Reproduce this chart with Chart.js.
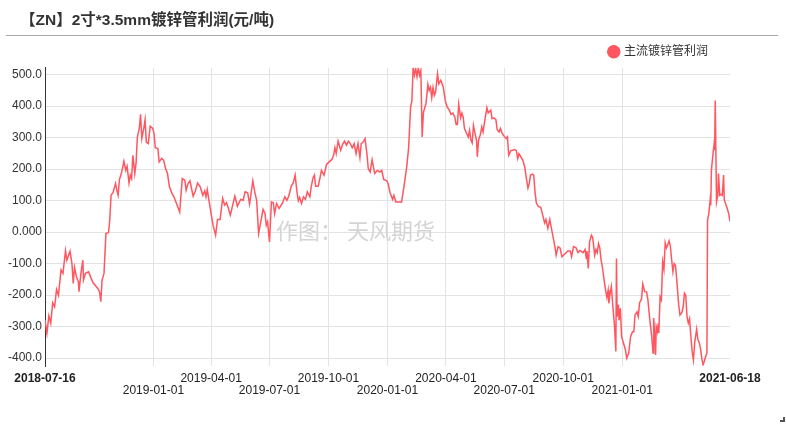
<!DOCTYPE html>
<html>
<head>
<meta charset="utf-8">
<script src="https://cdn.jsdelivr.net/npm/chart.js@4.4.1/dist/chart.umd.min.js"></script>
<style>
  html, body { margin: 0; padding: 0; background: #fff; }
  #wrap { position: relative; width: 786px; height: 425px; overflow: hidden; font-family: "Liberation Sans", Arial, "Noto Sans CJK SC", sans-serif; }
  #title { position: absolute; left: 20px; top: 10px; font-size: 15.5px; font-weight: bold; color: #333; line-height: 20px; white-space: nowrap; font-family: "Liberation Sans", Arial, "Noto Sans CJK SC", sans-serif; }
  #rule { position: absolute; left: 6px; top: 35px; width: 772px; height: 0; border-top: 1px solid #a8a8a8; }
  #corner { position: absolute; left: 780px; top: 417px; width: 3px; height: 3px; border-right: 2px solid #555; border-bottom: 2px solid #555; }
  canvas { position: absolute; left: 0; top: 0; }
</style>
</head>
<body>
<div id="wrap">
  <canvas id="profit-chart" width="786" height="425"></canvas>
  <div id="title">【ZN】2寸*3.5mm镀锌管利润(元/吨)</div>
  <div id="rule"></div>
  <div id="corner"></div>
</div>
<script>
var seriesName = '主流镀锌管利润';
var lineColor = '#ff5660';

var dates = [
  '2018-07-16','2018-07-19','2018-07-22','2018-07-25','2018-07-28','2018-07-31','2018-08-03','2018-08-06','2018-08-10','2018-08-13',
  '2018-08-17','2018-08-19','2018-08-21','2018-08-24','2018-08-27','2018-08-29','2018-08-31','2018-09-03','2018-09-06','2018-09-07',
  '2018-09-10','2018-09-13','2018-09-14','2018-09-17','2018-09-22','2018-09-25','2018-09-29','2018-10-06','2018-10-09','2018-10-11',
  '2018-10-13','2018-10-16','2018-10-19','2018-10-23','2018-10-25','2018-10-27','2018-10-30','2018-11-03','2018-11-05','2018-11-07',
  '2018-11-09','2018-11-12','2018-11-16','2018-11-19','2018-11-21','2018-11-24','2018-11-26','2018-11-28','2018-11-30','2018-12-03',
  '2018-12-05','2018-12-07','2018-12-10','2018-12-12','2018-12-14','2018-12-17','2018-12-19','2018-12-21','2018-12-24','2018-12-27',
  '2018-12-31','2019-01-02','2019-01-04','2019-01-08','2019-01-10','2019-01-14','2019-01-17','2019-01-20','2019-01-23','2019-01-26',
  '2019-01-30','2019-02-02','2019-02-06','2019-02-11','2019-02-15','2019-02-19','2019-02-21','2019-02-24','2019-02-27','2019-03-04',
  '2019-03-07','2019-03-11','2019-03-15','2019-03-19','2019-03-22','2019-03-24','2019-03-26','2019-03-29','2019-04-01','2019-04-04',
  '2019-04-08','2019-04-11','2019-04-15','2019-04-19','2019-04-22','2019-04-25','2019-04-28','2019-05-01','2019-05-04','2019-05-08',
  '2019-05-12','2019-05-17','2019-05-21','2019-05-24','2019-05-28','2019-05-31','2019-06-03','2019-06-05','2019-06-08','2019-06-11',
  '2019-06-14','2019-06-17','2019-06-21','2019-06-24','2019-06-26','2019-06-28','2019-07-01','2019-07-04','2019-07-07','2019-07-09',
  '2019-07-12','2019-07-16','2019-07-21','2019-07-25','2019-07-28','2019-07-31','2019-08-04','2019-08-07','2019-08-10','2019-08-13',
  '2019-08-15','2019-08-17','2019-08-20','2019-08-23','2019-08-26','2019-08-29','2019-09-02','2019-09-04','2019-09-07','2019-09-09',
  '2019-09-11','2019-09-15','2019-09-18','2019-09-20','2019-09-24','2019-09-28','2019-10-02','2019-10-06','2019-10-09','2019-10-11',
  '2019-10-13','2019-10-16','2019-10-20','2019-10-23','2019-10-26','2019-10-29','2019-11-01','2019-11-04','2019-11-07','2019-11-10',
  '2019-11-13','2019-11-16','2019-11-19','2019-11-21','2019-11-24','2019-11-27','2019-11-30','2019-12-02','2019-12-05','2019-12-08',
  '2019-12-12','2019-12-16','2019-12-20','2019-12-23','2019-12-26','2019-12-31','2020-01-02','2020-01-05','2020-01-09','2020-01-11',
  '2020-01-14','2020-01-19','2020-01-23','2020-01-27','2020-01-31','2020-02-03','2020-02-06','2020-02-08','2020-02-10','2020-02-12',
  '2020-02-14','2020-02-16','2020-02-18','2020-02-20','2020-02-22','2020-02-24','2020-02-26','2020-03-01','2020-03-04','2020-03-06',
  '2020-03-08','2020-03-10','2020-03-12','2020-03-14','2020-03-16','2020-03-19','2020-03-21','2020-03-24','2020-03-28','2020-03-31',
  '2020-04-03','2020-04-06','2020-04-09','2020-04-12','2020-04-15','2020-04-17','2020-04-19','2020-04-21','2020-04-24','2020-04-26',
  '2020-04-28','2020-04-30','2020-05-03','2020-05-06','2020-05-08','2020-05-10','2020-05-12','2020-05-14','2020-05-16','2020-05-19',
  '2020-05-20','2020-05-22','2020-05-25','2020-05-27','2020-05-29','2020-05-31','2020-06-02','2020-06-04','2020-06-06','2020-06-10',
  '2020-06-12','2020-06-15','2020-06-18','2020-06-20','2020-06-23','2020-06-25','2020-06-28','2020-07-01','2020-07-04','2020-07-06',
  '2020-07-08','2020-07-11','2020-07-14','2020-07-17','2020-07-20','2020-07-22','2020-07-24','2020-07-27','2020-07-30','2020-08-02',
  '2020-08-04','2020-08-07','2020-08-09','2020-08-11','2020-08-14','2020-08-16','2020-08-18','2020-08-20','2020-08-23','2020-08-27',
  '2020-08-30','2020-09-02','2020-09-04','2020-09-07','2020-09-10','2020-09-14','2020-09-18','2020-09-20','2020-09-23','2020-09-26',
  '2020-09-29','2020-10-03','2020-10-08','2020-10-12','2020-10-14','2020-10-17','2020-10-21','2020-10-24','2020-10-27','2020-11-01',
  '2020-11-04','2020-11-06','2020-11-07','2020-11-09','2020-11-11','2020-11-14','2020-11-16','2020-11-19','2020-11-21','2020-11-23',
  '2020-11-25','2020-11-27','2020-11-29','2020-12-01','2020-12-03','2020-12-06','2020-12-08','2020-12-10','2020-12-11','2020-12-13',
  '2020-12-15','2020-12-17','2020-12-20','2020-12-22','2020-12-23','2020-12-24','2020-12-26','2020-12-27','2020-12-29','2020-12-31',
  '2021-01-03','2021-01-06','2021-01-08','2021-01-11','2021-01-14','2021-01-17','2021-01-19','2021-01-21','2021-01-24','2021-01-26',
  '2021-01-28','2021-01-31','2021-02-02','2021-02-05','2021-02-08','2021-02-10','2021-02-13','2021-02-16','2021-02-18','2021-02-19',
  '2021-02-21','2021-02-22','2021-02-23','2021-02-25','2021-02-26','2021-02-27','2021-03-01','2021-03-03','2021-03-05','2021-03-07',
  '2021-03-09','2021-03-11','2021-03-13','2021-03-15','2021-03-17','2021-03-19','2021-03-21','2021-03-23','2021-03-25','2021-03-27',
  '2021-03-30','2021-04-01','2021-04-04','2021-04-06','2021-04-08','2021-04-10','2021-04-12','2021-04-14','2021-04-16','2021-04-18',
  '2021-04-20','2021-04-22','2021-04-24','2021-04-27','2021-04-29','2021-05-01','2021-05-03','2021-05-05','2021-05-07','2021-05-09',
  '2021-05-11','2021-05-13','2021-05-14','2021-05-16','2021-05-18','2021-05-19','2021-05-20','2021-05-22','2021-05-24','2021-05-25',
  '2021-05-26','2021-05-28','2021-05-30','2021-05-31','2021-06-02','2021-06-04','2021-06-06','2021-06-08','2021-06-09','2021-06-11',
  '2021-06-13','2021-06-16','2021-06-18'
];

var profit = [
  -279,-321,-266,-289,-224,-237,-182,-200,-120,-131,
  -59,-89,-78,-61,-99,-163,-112,-142,-157,-189,
  -131,-89,-152,-131,-126,-142,-161,-178,-189,-221,
  -152,-131,-4,-2,40,117,125,154,133,117,
  167,186,225,196,209,156,181,170,244,186,
  220,302,329,374,297,329,357,286,281,336,
  329,313,268,265,223,234,228,202,186,144,
  123,112,91,64,170,165,133,154,163,114,
  128,156,144,117,131,112,135,96,59,22,
  -10,40,40,107,86,93,75,54,80,114,
  82,104,101,128,125,89,133,163,128,101,
  -4,28,72,59,22,33,-31,96,93,59,
  91,75,91,112,101,114,146,156,181,125,
  100,110,91,112,104,128,112,144,173,181,
  146,146,175,196,181,215,223,230,244,268,
  249,289,260,279,289,276,289,281,268,281,
  249,281,237,281,286,297,247,202,191,230,
  186,196,191,196,167,163,154,125,104,117,
  96,96,96,149,207,270,397,416,524,498,
  519,494,522,498,513,302,380,408,469,450,
  460,427,459,434,445,503,471,482,460,418,
  397,389,374,378,365,342,342,406,363,378,
  365,329,315,302,323,292,283,339,318,289,
  239,292,311,334,318,345,371,395,378,387,
  360,363,357,325,318,329,313,304,297,302,
  244,258,260,262,258,234,249,239,228,207,
  178,140,154,181,184,181,128,93,82,78,
  54,29,40,12,40,-3,-46,-73,-46,-50,
  -78,-70,-60,-60,-78,-46,-50,-65,-58,-65,
  -55,-84,-60,-115,-31,-10,-18,-73,-55,-65,
  -36,-50,-89,-110,-142,-184,-207,-184,-226,-195,
  -173,-226,-300,-379,-84,-268,-231,-280,-242,-332,
  -353,-374,-400,-385,-332,-316,-316,-263,-253,-268,
  -224,-213,-165,-189,-190,-215,-279,-332,-384,-273,
  -340,-390,-300,-316,-290,-320,-205,-215,-94,-118,
  -34,-50,-40,-28,-45,-87,-126,-100,-105,-152,
  -231,-263,-255,-237,-194,-200,-268,-289,-275,-332,
  -379,-406,-350,-308,-342,-350,-370,-400,-421,-410,
  -395,-384,38,59,101,85,196,239,276,260,
  418,96,117,186,117,120,117,181,104,91,
  80,59,33
];

// x axis labels, the first and last are the range ends (bold)
var xTickDates = ['2018-07-16', '2019-01-01', '2019-04-01', '2019-07-01', '2019-10-01', '2020-01-01',
                  '2020-04-01', '2020-07-01', '2020-10-01', '2021-01-01', '2021-06-18'];
var yTicks = [-400, -300, -200, -100, 0, 100, 200, 300, 400, 500];

function toDay(s) {
  var p = s.split('-');
  return Date.UTC(+p[0], +p[1] - 1, +p[2]) / 864e5;
}
function fromDay(d) {
  return new Date(d * 864e5).toISOString().slice(0, 10);
}

var points = dates.map(function (d, i) { return { x: toDay(d), y: profit[i] }; });
var lastTick = xTickDates.length - 1;

var watermark = {
  id: 'watermark',
  beforeDatasetsDraw: function (chart) {
    var c = chart.ctx, a = chart.chartArea;
    c.save();
    c.font = '22px "Noto Sans CJK SC", sans-serif';
    c.fillStyle = '#d4d4d4';
    c.textBaseline = 'middle';
    c.textAlign = 'left';
    c.fillText('作图： 天风期货', a.left + 231, a.top + 163);
    c.restore();
  }
};

var ctx = document.getElementById('profit-chart').getContext('2d');
var chart = new Chart(ctx, {
  type: 'line',
  data: {
    datasets: [{
      label: seriesName,
      data: points,
      borderColor: lineColor,
      backgroundColor: lineColor,
      borderWidth: 1.5,
      pointRadius: 0,
      pointHoverRadius: 0,
      tension: 0
    }]
  },
  plugins: [watermark],
  options: {
    responsive: false,
    animation: false,
    layout: { padding: { top: 23.7, right: 56, bottom: 28, left: 0 } },
    plugins: {
      tooltip: { enabled: false },
      legend: {
        position: 'top',
        align: 'end',
        labels: {
          usePointStyle: true,
          pointStyle: 'circle',
          boxWidth: 8.5,
          boxHeight: 8.5,
          padding: 22,
          color: '#333',
          font: { size: 12, family: '"Liberation Sans", Arial, "Noto Sans CJK SC", sans-serif' }
        }
      }
    },
    scales: {
      x: {
        type: 'linear',
        min: toDay(xTickDates[0]),
        max: toDay(xTickDates[lastTick]),
        afterBuildTicks: function (scale) {
          scale.ticks = xTickDates.map(function (d) { return { value: toDay(d) }; });
        },
        afterFit: function (scale) { scale.height = 31; },
        border: { display: false },
        grid: {
          drawTicks: false,
          color: function (c) { return (c.index === 0 || c.index === lastTick) ? 'rgba(0,0,0,0)' : '#e3e3e3'; }
        },
        ticks: {
          autoSkip: false,
          maxRotation: 0,
          minRotation: 0,
          padding: 6,
          color: '#222',
          font: function (c) {
            var bold = c.index === 0 || c.index === lastTick;
            return { size: 12, lineHeight: 1.05, weight: bold ? 'bold' : 'normal', family: '"Liberation Sans", Arial, sans-serif' };
          },
          callback: function (v, i) {
            var label = fromDay(v);
            if (i === 0 || i === lastTick || i % 2 === 0) return [label];
            return ['', label];
          }
        }
      },
      y: {
        min: -425,
        max: 522,
        afterBuildTicks: function (scale) {
          scale.ticks = yTicks.map(function (v) { return { value: v }; });
        },
        afterFit: function (scale) { scale.width = 45; },
        border: { display: true, color: '#333', width: 1 },
        grid: { drawTicks: false, color: '#e3e3e3' },
        ticks: {
          padding: 3,
          color: '#333',
          font: { size: 12, family: '"Liberation Sans", Arial, sans-serif' },
          callback: function (v) { return Number(v).toPrecision(4); }
        }
      }
    }
  }
});
</script>
</body>
</html>
